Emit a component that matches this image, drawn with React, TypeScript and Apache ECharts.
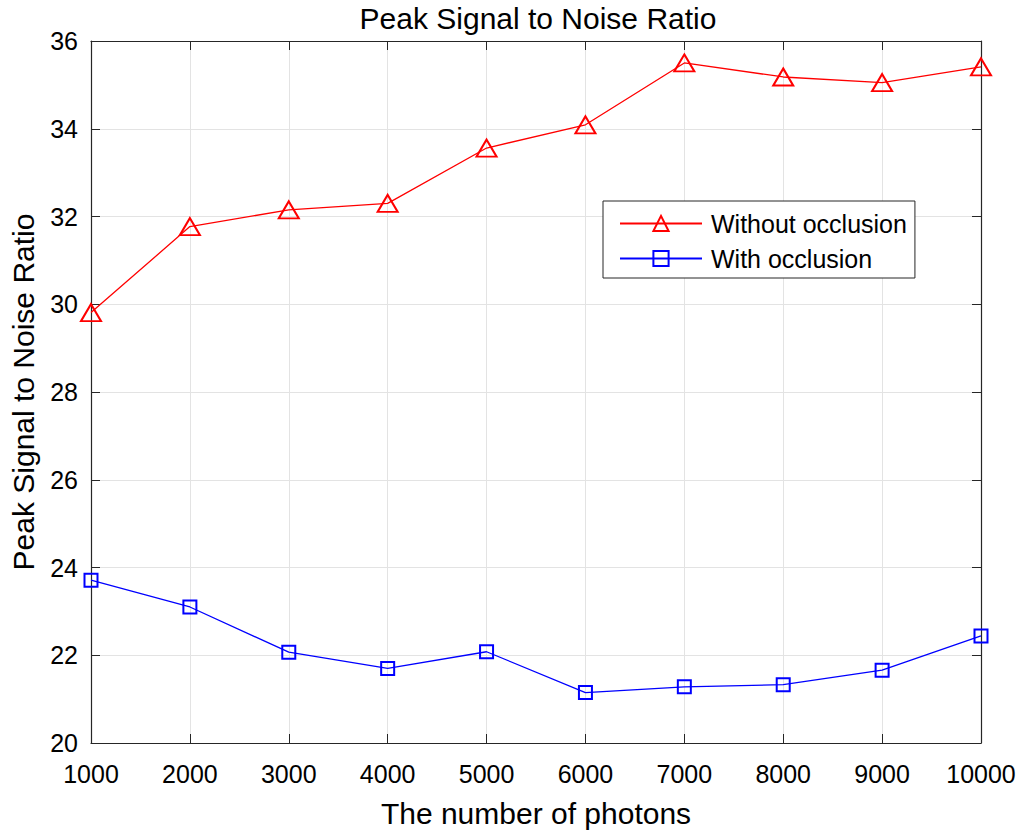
import React, { useEffect, useRef } from "react";
import * as echarts from "echarts";

const photons = [1000, 2000, 3000, 4000, 5000, 6000, 7000, 8000, 9000, 10000];
const withoutOcclusion = [29.81, 31.77, 32.15, 32.3, 33.56, 34.09, 35.5, 35.18, 35.05, 35.41];
const withOcclusion = [23.71, 23.1, 22.07, 21.7, 22.08, 21.15, 21.28, 21.33, 21.66, 22.44];
const seriesNames = ["Without occlusion", "With occlusion"];

const FONT = "'Liberation Sans', Arial, Helvetica, sans-serif";
const AXIS = "#262626";

export default function App() {
  const ref = useRef<HTMLDivElement>(null);
  useEffect(() => {
    if (!ref.current) return;
    const chart = echarts.init(ref.current, undefined, { renderer: "svg" });
    const pair = (ys: number[]) => photons.map((x, i) => [x, ys[i]]);
    const hidden = {
      axisLabel: { show: false },
      splitLine: { show: false },
      axisLine: { show: true, lineStyle: { color: AXIS, width: 1.2 } },
      axisTick: { show: true, inside: true, length: 9, lineStyle: { color: AXIS } },
    };
    chart.setOption({
      animation: false,
      backgroundColor: "#ffffff",
      textStyle: { fontFamily: FONT },
      title: {
        text: "Peak Signal to Noise Ratio",
        left: 533,
        textAlign: "center",
        top: -2,
        textStyle: { fontFamily: FONT, fontSize: 30, fontWeight: "normal", color: "#000" },
      },
      grid: { left: 89, right: 43, top: 41, bottom: 96, containLabel: false },
      legend: {
        orient: "vertical",
        left: 603,
        top: 201,
        padding: [10, 8, 7, 16],
        itemGap: 10,
        itemWidth: 82,
        itemHeight: 19,
        borderColor: AXIS,
        borderWidth: 1,
        backgroundColor: "#ffffff",
        data: seriesNames,
        textStyle: { fontFamily: FONT, fontSize: 25, color: "#000", padding: [0, 0, 0, 4] },
      },
      xAxis: [
        {
          type: "value",
          min: 1000,
          max: 10000,
          interval: 1000,
          name: "The number of photons",
          nameLocation: "middle",
          nameGap: 55,
          nameTextStyle: { fontFamily: FONT, fontSize: 30, color: "#000" },
          axisLine: { show: true, lineStyle: { color: AXIS, width: 1.2 } },
          axisTick: { show: true, inside: true, length: 9, lineStyle: { color: AXIS } },
          axisLabel: {
            fontFamily: FONT,
            fontSize: 25,
            color: "#000",
            margin: 18,
            formatter: (v: number) => String(v),
          },
          splitLine: { show: true, lineStyle: { color: "#e3e3e3", width: 1 } },
        },
        { type: "value", position: "top", min: 1000, max: 10000, interval: 1000, ...hidden },
      ],
      yAxis: [
        {
          type: "value",
          min: 20,
          max: 36,
          interval: 2,
          name: "Peak Signal to Noise Ratio",
          nameLocation: "middle",
          nameGap: 53,
          nameRotate: 90,
          nameTextStyle: { fontFamily: FONT, fontSize: 30, color: "#000" },
          axisLine: { show: true, lineStyle: { color: AXIS, width: 1.2 } },
          axisTick: { show: true, inside: true, length: 9, lineStyle: { color: AXIS } },
          axisLabel: { fontFamily: FONT, fontSize: 25, color: "#000", margin: 13 },
          splitLine: { show: true, lineStyle: { color: "#e3e3e3", width: 1 } },
        },
        { type: "value", position: "right", min: 20, max: 36, interval: 2, ...hidden },
      ],
      series: [
        {
          name: seriesNames[0],
          type: "line",
          data: pair(withoutOcclusion),
          symbol: "triangle",
          symbolSize: [20, 17],
          lineStyle: { color: "#ff0000", width: 1.3 },
          itemStyle: { color: "rgba(255,255,255,0)", borderColor: "#ff0000", borderWidth: 2 },
          z: 3,
        },
        {
          name: seriesNames[1],
          type: "line",
          data: pair(withOcclusion),
          symbol: "rect",
          symbolSize: 13,
          lineStyle: { color: "#0000ff", width: 1.3 },
          itemStyle: { color: "rgba(255,255,255,0)", borderColor: "#0000ff", borderWidth: 2 },
          z: 3,
        },
      ],
    });
    return () => chart.dispose();
  }, []);
  return <div ref={ref} style={{ width: 1024, height: 839, position: "absolute", left: 0, top: 0 }} />;
}
